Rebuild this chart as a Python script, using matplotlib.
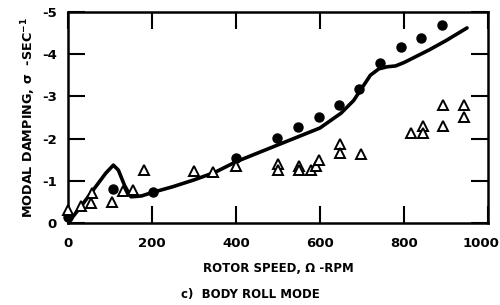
import matplotlib

matplotlib.use("Agg")
import matplotlib.pyplot as plt  # noqa: E402

plt.rcParams["font.family"] = ["DejaVu Sans"]
plt.rcParams["font.weight"] = "bold"

# analysis curve (rotor speed rpm, damping 1/s)
line_rpm = [0, 30, 60, 90, 108, 120, 135, 150, 175, 200, 250, 300, 350, 400, 450,
            500, 550, 600, 650, 680, 700, 720, 740, 760, 780, 800, 830, 860, 900, 950]
line_sigma = [0, -0.38, -0.78, -1.18, -1.37, -1.25, -0.88, -0.62, -0.64, -0.72, -0.86,
              -1.02, -1.2, -1.45, -1.65, -1.85, -2.05, -2.25, -2.6, -2.9, -3.2, -3.5,
              -3.65, -3.7, -3.72, -3.8, -3.95, -4.1, -4.32, -4.62]

# filled circles
circ_rpm = [0, 107, 202, 400, 498, 548, 598, 645, 693, 743, 793, 840, 890]
circ_sigma = [-0.15, -0.8, -0.74, -1.55, -2.02, -2.28, -2.52, -2.79, -3.18, -3.8,
              -4.17, -4.38, -4.69]

# open triangles
tri_rpm = [0, 30, 55, 58, 105, 130, 155, 180, 300, 345, 400, 500, 500, 550, 550,
           578, 590, 598, 648, 648, 698, 817, 845, 845, 893, 893, 943, 943]
tri_sigma = [-0.3, -0.4, -0.48, -0.71, -0.5, -0.76, -0.78, -1.26, -1.24, -1.2, -1.36,
             -1.4, -1.25, -1.35, -1.25, -1.25, -1.35, -1.5, -1.86, -1.65, -1.63,
             -2.14, -2.29, -2.14, -2.79, -2.3, -2.79, -2.52]

x_ticks = [0, 200, 400, 600, 800, 1000]
y_ticks = [0, -1, -2, -3, -4, -5]

fig = plt.figure(figsize=(5.0, 3.05), dpi=100)
ax = fig.add_axes([0.136, 0.269, 0.84, 0.692])

ax.plot(line_rpm, line_sigma, color="black", lw=2.6, solid_capstyle="round", zorder=2)
ax.plot(circ_rpm, circ_sigma, "o", color="black", ms=6.5, zorder=3, clip_on=False)
ax.plot(tri_rpm, tri_sigma, "^", mfc="white", mec="black", mew=1.4, ms=7.5, zorder=4,
        clip_on=False)

ax.set_xlim(0, 1000)
ax.set_ylim(0, -5)
ax.set_xticks(x_ticks)
# last label is drawn separately, nudged left so it stays inside the figure
ax.set_xticklabels([str(v) for v in x_ticks[:-1]] + [""])
ax.set_yticks(y_ticks)
ax.set_yticklabels([str(v) for v in y_ticks])
ax.tick_params(direction="in", length=12, width=1.5, top=True, right=True,
               labelsize=9.5, pad=10)
ax.tick_params(axis="y", pad=8)
for s in ax.spines.values():
    s.set_linewidth(1.8)

ax.annotate(str(x_ticks[-1]), xy=(x_ticks[-1], 0), xycoords=("data", "axes fraction"),
            xytext=(-5, -10), textcoords="offset points", ha="center", va="top",
            fontsize=9.5, fontweight="bold", annotation_clip=False)

ax.set_xlabel("ROTOR SPEED, \u03a9 -RPM", fontsize=8.5, fontweight="bold", labelpad=9)
ax.set_ylabel("MODAL DAMPING, \u03c3  -SEC$^{\\mathbf{-1}}$", fontsize=9.2,
              fontweight="bold", labelpad=3)
fig.text(0.5, 0.033, "c)  BODY ROLL MODE", ha="center", va="center", fontsize=8.5,
         fontweight="bold")

fig.savefig("out.png", dpi=100)
